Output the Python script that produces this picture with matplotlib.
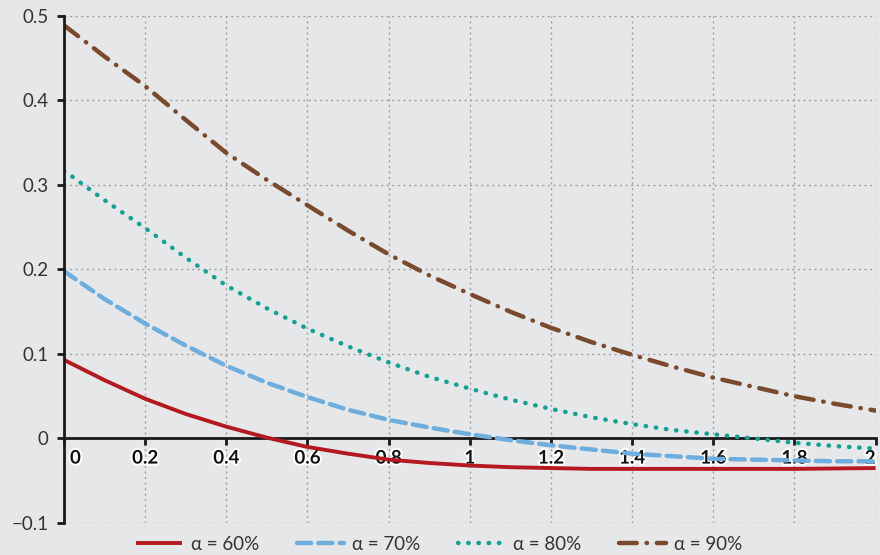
import numpy as np
import matplotlib.pyplot as plt
import matplotlib.patheffects as pe
from matplotlib.transforms import ScaledTranslation

x = [0, 0.1, 0.2, 0.3, 0.4, 0.5, 0.6, 0.7, 0.8, 0.9, 1.0,
     1.1, 1.2, 1.3, 1.4, 1.5, 1.6, 1.7, 1.8, 1.9, 2.0]
alpha60 = [0.093, 0.069, 0.047, 0.029, 0.014, 0.001, -0.010, -0.018, -0.025, -0.029, -0.032,
           -0.034, -0.035, -0.036, -0.036, -0.036, -0.036, -0.036, -0.036, -0.0355, -0.035]
alpha70 = [0.198, 0.165, 0.136, 0.110, 0.086, 0.066, 0.049, 0.034, 0.022, 0.013, 0.005,
           -0.002, -0.008, -0.013, -0.018, -0.021, -0.024, -0.025, -0.026, -0.027, -0.027]
alpha80 = [0.317, 0.282, 0.249, 0.214, 0.181, 0.154, 0.130, 0.109, 0.090, 0.073, 0.059,
           0.046, 0.035, 0.025, 0.017, 0.010, 0.005, 0.000, -0.005, -0.009, -0.012]
alpha90 = [0.489, 0.452, 0.417, 0.377, 0.338, 0.306, 0.276, 0.246, 0.218, 0.193, 0.171,
           0.150, 0.131, 0.114, 0.099, 0.085, 0.072, 0.061, 0.050, 0.041, 0.033]

series = [
    ("α = 60%", alpha60, "#b3191e", "-"),
    ("α = 70%", alpha70, "#6eaede", (0, (3.2, 1.6))),
    ("α = 80%", alpha80, "#12a293", (0, (0.1, 2.2))),
    ("α = 90%", alpha90, "#7a4a2d", (0, (4, 2.2, 0.1, 2.2))),
]
xticks = [0, 0.2, 0.4, 0.6, 0.8, 1, 1.2, 1.4, 1.6, 1.8, 2]
xticklabels = ["0", "0.2", "0.4", "0.6", "0.8", "1", "1.2", "1.4", "1.6", "1.8", "2"]
yticks = [-0.1, 0, 0.1, 0.2, 0.3, 0.4, 0.5]
yticklabels = ["\u22120.1", "0", "0.1", "0.2", "0.3", "0.4", "0.5"]

plt.rcParams['font.family'] = ['Lato', 'DejaVu Sans']
bg = "#e6e7e9"

fig = plt.figure(figsize=(8.8, 5.55), dpi=100, facecolor=bg)
ax = fig.add_axes([0.0727, 0.0577, 0.9223, 0.9135])
ax.set_facecolor(bg)

for label, ys, color, ls in series:
    lw = 3.2 if ls != "-" else 2.8
    ax.plot(x, ys, color=color, linestyle=ls, linewidth=lw, label=label,
            dash_capstyle='round', solid_capstyle='butt')

ax.set_xlim(0, 2)
ax.set_ylim(-0.1, 0.5)
ax.set_xticks(xticks)
ax.set_xticklabels(xticklabels)
ax.set_yticks(yticks)
ax.set_yticklabels(yticklabels)

ax.grid(True, color="#a0a0a4", linestyle=(0, (1.5, 2.5)), linewidth=1.0)
ax.set_axisbelow(True)

for s in ['top', 'right']:
    ax.spines[s].set_visible(False)
ax.spines['left'].set_linewidth(2)
ax.spines['left'].set_color("#1a1a1a")
ax.spines['bottom'].set_position(('data', 0))
ax.spines['bottom'].set_linewidth(2)
ax.spines['bottom'].set_color("#1a1a1a")
ax.spines['bottom'].set_zorder(1.5)

ax.tick_params(axis='y', direction='out', length=5, width=2, color="#1a1a1a",
               labelsize=13.5, labelcolor="#333333", pad=6)
ax.tick_params(axis='x', direction='out', length=5, width=2, color="#1a1a1a",
               labelsize=13.5, labelcolor="#111111", pad=3)

for t in ax.get_xticklabels():
    t.set_fontweight('bold')
    t.set_path_effects([pe.withStroke(linewidth=3, foreground="white")])
    t.set_zorder(5)
first = ax.get_xticklabels()[0]
first.set_horizontalalignment('left')
first.set_transform(first.get_transform() + ScaledTranslation(6 / 100, 0, fig.dpi_scale_trans))
ax.get_xticklabels()[-1].set_horizontalalignment('right')

leg = ax.legend(loc='center', bbox_to_anchor=(0.462, -0.042), ncol=4,
                frameon=False, fontsize=13.5, handlelength=2.5, columnspacing=2.0,
                handletextpad=0.45, borderpad=0, borderaxespad=0)
for t in leg.get_texts():
    t.set_color("#333333")

fig.savefig("out.png", dpi=100, facecolor=bg)
